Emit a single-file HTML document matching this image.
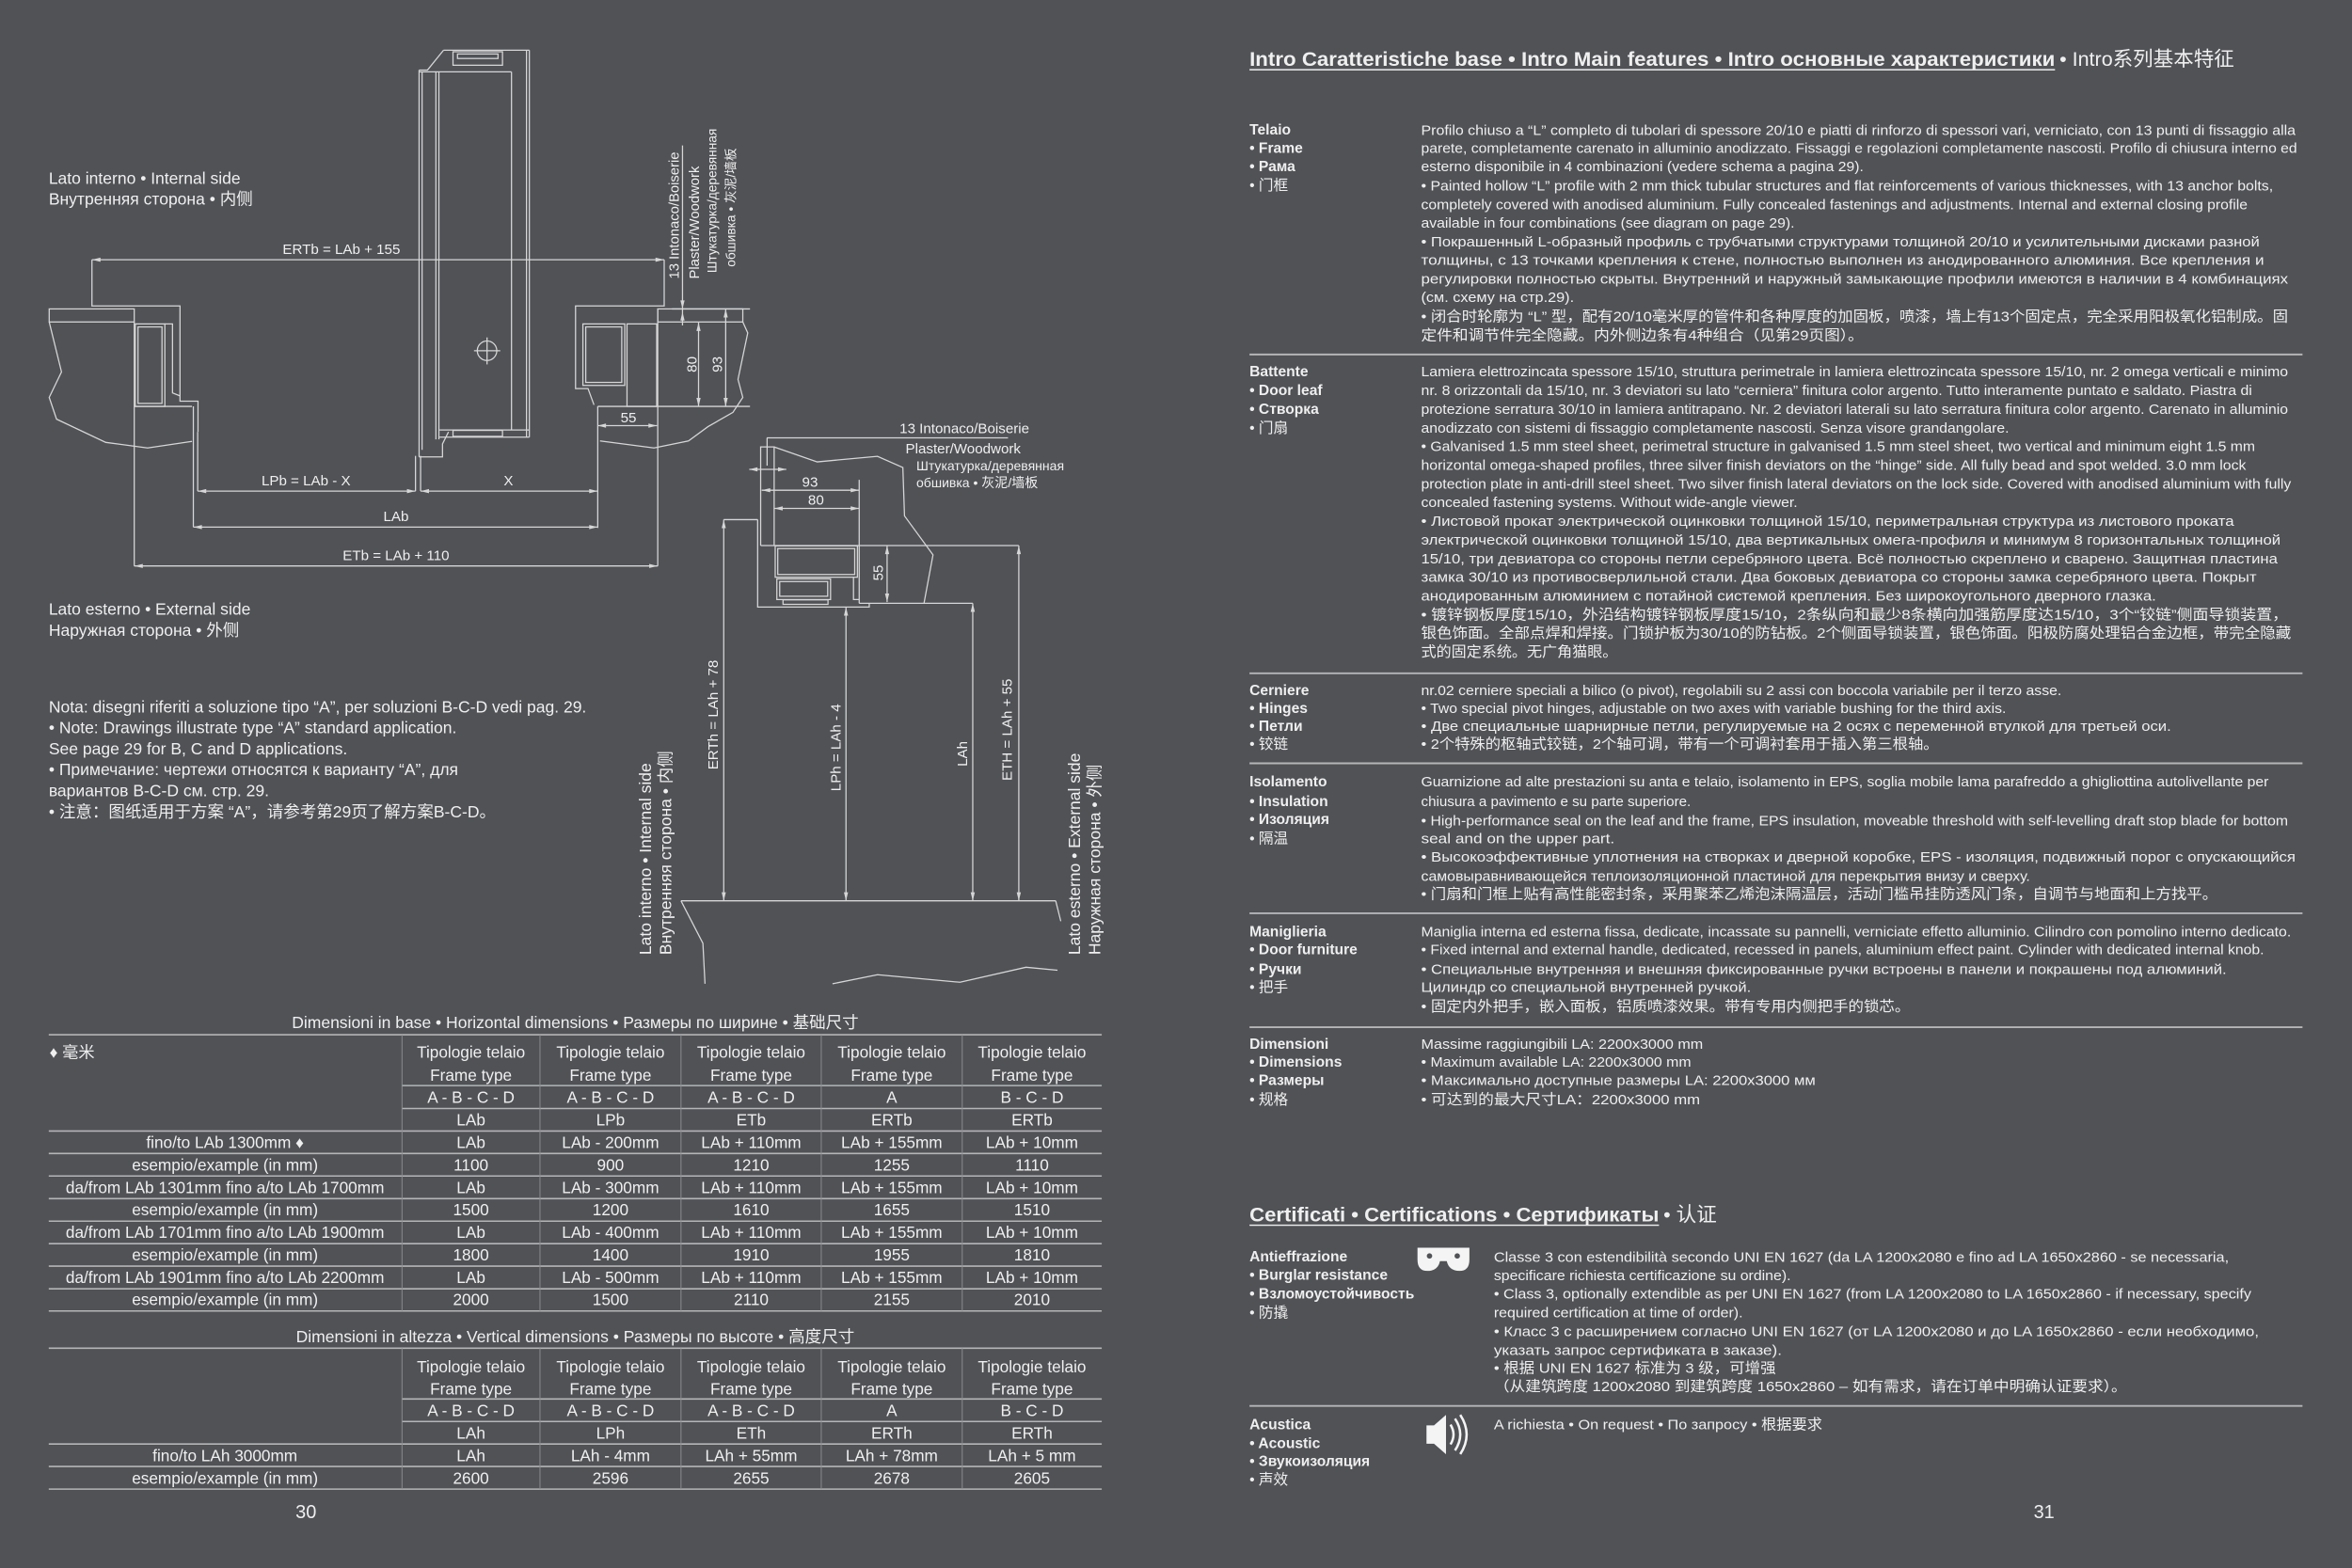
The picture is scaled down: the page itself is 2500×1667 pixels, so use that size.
<!DOCTYPE html>
<html><head><meta charset="utf-8">
<style>
html,body{margin:0;padding:0;background:#505256;}
svg{display:block;}
text{fill:#efefef;}
.n{font-family:"Liberation Sans Narrow","Liberation Sans","Noto Sans CJK SC",sans-serif;}
.s{font-family:"Liberation Sans","Noto Sans CJK SC",sans-serif;}
.b{font-weight:bold;}
</style></head>
<body>
<svg width="2500" height="1667" viewBox="0 0 1568 1045.6" preserveAspectRatio="none" xmlns="http://www.w3.org/2000/svg">
<rect x="0" y="0" width="1568" height="1046" fill="#505256"/>

<!-- ===== LEFT DRAWING ===== -->
<g stroke="#d6d6d6" stroke-width="0.8" fill="none">
 <line x1="279.4" y1="46.7" x2="279.4" y2="304.7"/>
 <line x1="281.4" y1="47.9" x2="281.4" y2="300"/>
 <line x1="290.6" y1="47.9" x2="290.6" y2="293"/>
 <line x1="292.6" y1="47.9" x2="292.6" y2="293"/>
 <line x1="341" y1="47.9" x2="341" y2="286.7"/>
 <line x1="351" y1="33.5" x2="351" y2="291.5"/>
 <line x1="352.9" y1="33.5" x2="352.9" y2="291.5"/>
 <line x1="295.7" y1="33.5" x2="352.9" y2="33.5"/>
 <line x1="279.4" y1="47.9" x2="341" y2="47.9"/>
 <polyline points="279.4,46.7 285,46.7 295.7,33.5"/>
 <rect x="302" y="34.5" width="33" height="9"/>
 <rect x="305" y="36" width="27" height="3"/>
 <line x1="293" y1="286.7" x2="352.9" y2="286.7"/>
 <line x1="293" y1="291.5" x2="352.9" y2="291.5"/>
 <rect x="302" y="287" width="33" height="4"/>
 <polyline points="279.4,304.7 295,304.7 295,296 299,288"/>
 <circle cx="324.7" cy="233.9" r="6.5"/>
 <line x1="324.7" y1="225" x2="324.7" y2="243"/>
 <line x1="316" y1="233.9" x2="333.5" y2="233.9"/>
 <polyline points="61.3,173.2 61.3,204 120,204 120,267.5 132,267.5 132,288"/>
 <rect x="32.8" y="206" width="56.7" height="8.7"/>
 <polyline points="32.8,214.7 41,248 32.8,265 37.7,279.5 70.5,295 98.4,298.7 128,294.3"/>
 <rect x="90.2" y="216" width="19.7" height="55"/>
 <rect x="92" y="218" width="16" height="51"/>
 <line x1="89.5" y1="214.7" x2="89.5" y2="377.4"/>
 <line x1="89.5" y1="271" x2="128" y2="271"/>
 <polyline points="110,216 115,216 115,262 120,264"/>
 <line x1="128.9" y1="271" x2="128.9" y2="351.5"/>
 <line x1="131.8" y1="288" x2="131.8" y2="327.5"/>
 <polyline points="442.8,173.2 442.8,204 383.7,204 383.7,259.1 392,259.1 396,270"/>
 <rect x="438.5" y="206" width="56.7" height="8.7"/>
 <polyline points="495.2,214.7 498.5,222 492,253 495.2,265 488.6,275 472,284.5 459,294 436,298.7 400,294"/>
 <rect x="388.6" y="216" width="27.9" height="41"/>
 <rect x="390.5" y="218" width="24" height="37"/>
 <rect x="418" y="216" width="19.8" height="55"/>
 <line x1="438.5" y1="206" x2="438.5" y2="377.4"/>
 <line x1="398.5" y1="271" x2="500" y2="271"/>
 <line x1="398.5" y1="271" x2="398.5" y2="352"/>
 <line x1="277" y1="304" x2="277" y2="327.5"/>
 <line x1="280.4" y1="304" x2="280.4" y2="327.5"/>
 <line x1="448" y1="206" x2="500" y2="206"/>
 <line x1="455" y1="97" x2="455" y2="217"/>
 <line x1="61.3" y1="173.2" x2="442.8" y2="173.2"/>
 <line x1="131.8" y1="327.5" x2="277" y2="327.5"/>
 <line x1="280.4" y1="327.5" x2="398.5" y2="327.5"/>
 <line x1="128.9" y1="351.5" x2="398.5" y2="351.5"/>
 <line x1="89.5" y1="377.4" x2="438.5" y2="377.4"/>
 <line x1="398.5" y1="283.8" x2="438" y2="283.8"/>
 <line x1="465.7" y1="215" x2="465.7" y2="271"/>
 <line x1="483.8" y1="206" x2="483.8" y2="271"/>
</g>
<g fill="#d6d6d6">
 <polygon points="61.3,173.2 67,171.8 67,174.6"/><polygon points="442.8,173.2 437,171.8 437,174.6"/>
 <polygon points="131.8,327.5 137.5,326.1 137.5,328.9"/><polygon points="277,327.5 271.3,326.1 271.3,328.9"/>
 <polygon points="280.4,327.5 286,326.1 286,328.9"/><polygon points="398.5,327.5 392.8,326.1 392.8,328.9"/>
 <polygon points="128.9,351.5 134.6,350.1 134.6,352.9"/><polygon points="398.5,351.5 392.8,350.1 392.8,352.9"/>
 <polygon points="89.5,377.4 95.2,376 95.2,378.8"/><polygon points="438.5,377.4 432.8,376 432.8,378.8"/>
 <polygon points="398.5,283.8 404,282.4 404,285.2"/><polygon points="438,283.8 432.3,282.4 432.3,285.2"/>
 <polygon points="465.7,215 464.3,220.7 467.1,220.7"/><polygon points="465.7,271 464.3,265.3 467.1,265.3"/>
 <polygon points="483.8,206 482.4,211.7 485.2,211.7"/><polygon points="483.8,271 482.4,265.3 485.2,265.3"/>
 <polygon points="455,206 453.6,200.3 456.4,200.3"/><polygon points="455,208 453.6,213.7 456.4,213.7"/>
</g>
<g class="n" font-size="9.5" text-anchor="middle">
 <text x="227.6" y="169.5">ERTb = LAb + 155</text>
 <text x="204" y="323.5">LPb = LAb - X</text>
 <text x="339" y="323.5">X</text>
 <text x="264" y="347.5">LAb</text>
 <text x="264" y="373.5">ETb = LAb + 110</text>
 <text x="419" y="281.5">55</text>
 <text transform="translate(464.5,243) rotate(-90)">80</text>
 <text transform="translate(481.5,243) rotate(-90)">93</text>
</g>
<g class="n" font-size="9.3">
 <text transform="translate(452.5,186) rotate(-90)">13 Intonaco/Boiserie</text>
 <text transform="translate(466,186) rotate(-90)">Plaster/Woodwork</text>
</g>
<g class="s" font-size="8.6">
 <text transform="translate(477.5,182) rotate(-90)">Штукатурка/деревянная</text>
 <text transform="translate(490,178) rotate(-90)">обшивка • 灰泥/墙板</text>
</g>
<g class="s" font-size="11">
 <text x="32.5" y="122.5">Lato interno • Internal side</text>
 <text x="32.5" y="136.5">Внутренняя сторона • 内侧</text>
 <text x="32.5" y="410">Lato esterno • External side</text>
 <text x="32.5" y="424">Наружная сторона • 外侧</text>
 <text x="32.5" y="475">Nota: disegni riferiti a soluzione tipo “A”, per soluzioni B-C-D vedi pag. 29.</text>
 <text x="32.5" y="489">• Note: Drawings illustrate type “A” standard application.</text>
 <text x="32.5" y="503">See page 29 for B, C and D applications.</text>
 <text x="32.5" y="517">• Примечание: чертежи относятся к варианту “A”, для</text>
 <text x="32.5" y="531">вариантов B-C-D см. стр. 29.</text>
 <text x="32.5" y="545">• 注意：图纸适用于方案 “A”，请参考第29页了解方案B-C-D。</text>
</g>

<g stroke="#d6d6d6" stroke-width="0.8" fill="none">
 <line x1="511.2" y1="292" x2="672" y2="292"/>
 <line x1="511.4" y1="292" x2="511.4" y2="310.5"/>
 <line x1="499.5" y1="313" x2="524.2" y2="313"/>
 <line x1="507.8" y1="326.9" x2="572.8" y2="326.9"/>
 <line x1="516.1" y1="339" x2="572.8" y2="339"/>
 <line x1="572.8" y1="320" x2="572.8" y2="402.3"/>
 <polyline points="507.1,363.8 507.1,298 516.1,298 516.1,363.8"/>
 <polyline points="516,298 544.8,308 585,304.3 601.9,311.8 603,344 622,370 616,402.3"/>
 <line x1="507.1" y1="363.8" x2="679.2" y2="363.8"/>
 <line x1="679.2" y1="363.8" x2="679.2" y2="600.7"/>
 <rect x="516.8" y="364" width="54.8" height="20.9"/>
 <rect x="518.5" y="365.8" width="51.3" height="17.3"/>
 <polyline points="569,385 569,399.8 572.8,399.8"/>
 <rect x="517.9" y="386" width="35.8" height="13.8"/>
 <rect x="519.8" y="387.8" width="32" height="9.8"/>
 <polyline points="505.1,346.5 505.1,404.8 579.5,404.8 579.5,402.3"/>
 <rect x="522" y="400" width="30" height="3"/>
 <line x1="591.4" y1="363.8" x2="591.4" y2="401.5"/>
 <line x1="572.8" y1="402.3" x2="648.5" y2="402.3"/>
 <line x1="648.5" y1="402.3" x2="648.5" y2="600.7"/>
 <line x1="564" y1="404.8" x2="564" y2="600.7"/>
 <line x1="482.5" y1="346.5" x2="482.5" y2="600.7"/>
 <line x1="482.5" y1="346.5" x2="505.1" y2="346.5"/>
 <line x1="454" y1="600.7" x2="703.8" y2="600.7"/>
 <polyline points="454,600.7 468.6,629 470,656"/>
 <polyline points="703.8,600.7 707.2,614.3"/>
 <polyline points="555,656 585,650 640,655 684,645 705,647"/>
</g>
<g fill="#d6d6d6">
 <polygon points="499.5,313 505,311.6 505,314.4"/><polygon points="524.2,313 518.7,311.6 518.7,314.4"/>
 <polygon points="507.8,326.9 513.5,325.5 513.5,328.3"/><polygon points="572.8,326.9 567.1,325.5 567.1,328.3"/>
 <polygon points="516.1,339 521.8,337.6 521.8,340.4"/><polygon points="572.8,339 567.1,337.6 567.1,340.4"/>
 <polygon points="591.4,363.8 590,369.5 592.8,369.5"/><polygon points="591.4,401.5 590,395.8 592.8,395.8"/>
 <polygon points="679.2,363.8 677.8,369.5 680.6,369.5"/><polygon points="679.2,600.7 677.8,595 680.6,595"/>
 <polygon points="648.5,402.3 647.1,408 649.9,408"/><polygon points="648.5,600.7 647.1,595 649.9,595"/>
 <polygon points="564,404.8 562.6,410.5 565.4,410.5"/><polygon points="564,600.7 562.6,595 565.4,595"/>
 <polygon points="482.5,346.5 481.1,352.2 483.9,352.2"/><polygon points="482.5,600.7 481.1,595 483.9,595"/>
</g>
<g class="n" font-size="9.5">
 <text x="599.7" y="289">13 Intonaco/Boiserie</text>
 <text x="603.7" y="302.3">Plaster/Woodwork</text>
 <text x="540" y="324.5" text-anchor="middle">93</text>
 <text x="544" y="336.5" text-anchor="middle">80</text>
 <text transform="translate(588.5,382) rotate(-90)" text-anchor="middle">55</text>
 <text transform="translate(478.5,476.7) rotate(-90)" text-anchor="middle">ERTh = LAh + 78</text>
 <text transform="translate(560.3,498.5) rotate(-90)" text-anchor="middle">LPh = LAh - 4</text>
 <text transform="translate(644.8,502.7) rotate(-90)" text-anchor="middle">LAh</text>
 <text transform="translate(674.5,486.6) rotate(-90)" text-anchor="middle">ETH = LAh + 55</text>
</g>
<g class="s" font-size="8.8">
 <text x="610.9" y="313.5">Штукатурка/деревянная</text>
 <text x="610.9" y="325">обшивка • 灰泥/墙板</text>
</g>
<g class="s" font-size="11">
 <text transform="translate(434,636.7) rotate(-90)">Lato interno • Internal side</text>
 <text transform="translate(447.5,636.7) rotate(-90)">Внутренняя сторона • 内侧</text>
 <text transform="translate(720,636.7) rotate(-90)">Lato esterno • External side</text>
 <text transform="translate(733.5,636.7) rotate(-90)">Наружная сторона • 外侧</text>
</g>

<!-- ===== TABLES ===== -->
<g stroke="#b4b5b7" stroke-width="1">
 <line x1="32.5" y1="690" x2="734.5" y2="690"/>
 <line x1="268" y1="723.9" x2="734.5" y2="723.9"/>
 <line x1="268" y1="739.2" x2="734.5" y2="739.2"/>
 <line x1="32.5" y1="754.2" x2="734.5" y2="754.2"/>
 <line x1="32.5" y1="769.2" x2="734.5" y2="769.2"/>
 <line x1="32.5" y1="784.2" x2="734.5" y2="784.2"/>
 <line x1="32.5" y1="799.3" x2="734.5" y2="799.3"/>
 <line x1="32.5" y1="814.3" x2="734.5" y2="814.3"/>
 <line x1="32.5" y1="829.3" x2="734.5" y2="829.3"/>
 <line x1="32.5" y1="844.3" x2="734.5" y2="844.3"/>
 <line x1="32.5" y1="859.4" x2="734.5" y2="859.4"/>
 <line x1="32.5" y1="874.2" x2="734.5" y2="874.2"/>
 <line x1="32.5" y1="899" x2="734.5" y2="899"/>
 <line x1="268" y1="932.9" x2="734.5" y2="932.9"/>
 <line x1="268" y1="947.9" x2="734.5" y2="947.9"/>
 <line x1="32.5" y1="962.9" x2="734.5" y2="962.9"/>
 <line x1="32.5" y1="977.9" x2="734.5" y2="977.9"/>
 <line x1="32.5" y1="993" x2="734.5" y2="993"/>
</g>
<g stroke="#8c8d90" stroke-width="0.6">
 <line x1="268" y1="690" x2="268" y2="874.2"/><line x1="360" y1="690" x2="360" y2="874.2"/>
 <line x1="454" y1="690" x2="454" y2="874.2"/><line x1="547.5" y1="690" x2="547.5" y2="874.2"/>
 <line x1="641.5" y1="690" x2="641.5" y2="874.2"/>
 <line x1="268" y1="899" x2="268" y2="993"/><line x1="360" y1="899" x2="360" y2="993"/>
 <line x1="454" y1="899" x2="454" y2="993"/><line x1="547.5" y1="899" x2="547.5" y2="993"/>
 <line x1="641.5" y1="899" x2="641.5" y2="993"/>
</g>
<g class="n" font-size="11" text-anchor="middle">
 <text x="383.5" y="685.5">Dimensioni in base • Horizontal dimensions • Размеры по ширине • 基础尺寸</text>
 <text x="383.5" y="895">Dimensioni in altezza • Vertical dimensions • Размеры по высоте • 高度尺寸</text>
 <text x="204" y="1012.5" font-size="12.5">30</text>
</g>
<g class="n" font-size="10.8" text-anchor="middle">
 <text x="33" y="705.4" text-anchor="start">♦ 毫米</text>
 <text x="314" y="705.4">Tipologie telaio</text><text x="407" y="705.4">Tipologie telaio</text><text x="500.8" y="705.4">Tipologie telaio</text><text x="594.5" y="705.4">Tipologie telaio</text><text x="688" y="705.4">Tipologie telaio</text>
 <text x="314" y="720.6">Frame type</text><text x="407" y="720.6">Frame type</text><text x="500.8" y="720.6">Frame type</text><text x="594.5" y="720.6">Frame type</text><text x="688" y="720.6">Frame type</text>
 <text x="314" y="735.4">A - B - C - D</text><text x="407" y="735.4">A - B - C - D</text><text x="500.8" y="735.4">A - B - C - D</text><text x="594.5" y="735.4">A</text><text x="688" y="735.4">B - C - D</text>
 <text x="314" y="750.6">LAb</text><text x="407" y="750.6">LPb</text><text x="500.8" y="750.6">ETb</text><text x="594.5" y="750.6">ERTb</text><text x="688" y="750.6">ERTb</text>
 <text x="150" y="765.7">fino/to LAb 1300mm ♦</text><text x="314" y="765.7">LAb</text><text x="407" y="765.7">LAb - 200mm</text><text x="500.8" y="765.7">LAb + 110mm</text><text x="594.5" y="765.7">LAb + 155mm</text><text x="688" y="765.7">LAb + 10mm</text>
 <text x="150" y="780.5">esempio/example (in mm)</text><text x="314" y="780.5">1100</text><text x="407" y="780.5">900</text><text x="500.8" y="780.5">1210</text><text x="594.5" y="780.5">1255</text><text x="688" y="780.5">1110</text>
 <text x="150" y="795.8">da/from LAb 1301mm fino a/to LAb 1700mm</text><text x="314" y="795.8">LAb</text><text x="407" y="795.8">LAb - 300mm</text><text x="500.8" y="795.8">LAb + 110mm</text><text x="594.5" y="795.8">LAb + 155mm</text><text x="688" y="795.8">LAb + 10mm</text>
 <text x="150" y="810.5">esempio/example (in mm)</text><text x="314" y="810.5">1500</text><text x="407" y="810.5">1200</text><text x="500.8" y="810.5">1610</text><text x="594.5" y="810.5">1655</text><text x="688" y="810.5">1510</text>
 <text x="150" y="825.3">da/from LAb 1701mm fino a/to LAb 1900mm</text><text x="314" y="825.3">LAb</text><text x="407" y="825.3">LAb - 400mm</text><text x="500.8" y="825.3">LAb + 110mm</text><text x="594.5" y="825.3">LAb + 155mm</text><text x="688" y="825.3">LAb + 10mm</text>
 <text x="150" y="840.4">esempio/example (in mm)</text><text x="314" y="840.4">1800</text><text x="407" y="840.4">1400</text><text x="500.8" y="840.4">1910</text><text x="594.5" y="840.4">1955</text><text x="688" y="840.4">1810</text>
 <text x="150" y="855.4">da/from LAb 1901mm fino a/to LAb 2200mm</text><text x="314" y="855.4">LAb</text><text x="407" y="855.4">LAb - 500mm</text><text x="500.8" y="855.4">LAb + 110mm</text><text x="594.5" y="855.4">LAb + 155mm</text><text x="688" y="855.4">LAb + 10mm</text>
 <text x="150" y="870.4">esempio/example (in mm)</text><text x="314" y="870.4">2000</text><text x="407" y="870.4">1500</text><text x="500.8" y="870.4">2110</text><text x="594.5" y="870.4">2155</text><text x="688" y="870.4">2010</text>
 <text x="314" y="915">Tipologie telaio</text><text x="407" y="915">Tipologie telaio</text><text x="500.8" y="915">Tipologie telaio</text><text x="594.5" y="915">Tipologie telaio</text><text x="688" y="915">Tipologie telaio</text>
 <text x="314" y="930">Frame type</text><text x="407" y="930">Frame type</text><text x="500.8" y="930">Frame type</text><text x="594.5" y="930">Frame type</text><text x="688" y="930">Frame type</text>
 <text x="314" y="944.4">A - B - C - D</text><text x="407" y="944.4">A - B - C - D</text><text x="500.8" y="944.4">A - B - C - D</text><text x="594.5" y="944.4">A</text><text x="688" y="944.4">B - C - D</text>
 <text x="314" y="959.4">LAh</text><text x="407" y="959.4">LPh</text><text x="500.8" y="959.4">ETh</text><text x="594.5" y="959.4">ERTh</text><text x="688" y="959.4">ERTh</text>
 <text x="150" y="974.4">fino/to LAh 3000mm</text><text x="314" y="974.4">LAh</text><text x="407" y="974.4">LAh - 4mm</text><text x="500.8" y="974.4">LAh + 55mm</text><text x="594.5" y="974.4">LAh + 78mm</text><text x="688" y="974.4">LAh + 5 mm</text>
 <text x="150" y="989.4">esempio/example (in mm)</text><text x="314" y="989.4">2600</text><text x="407" y="989.4">2596</text><text x="500.8" y="989.4">2655</text><text x="594.5" y="989.4">2678</text><text x="688" y="989.4">2605</text>
</g>

<!-- ===== RIGHT PAGE ===== -->
<g class="n b" font-size="13.5">
 <text x="833" y="44" textLength="537" lengthAdjust="spacingAndGlyphs">Intro Caratteristiche base • Intro Main features • Intro основные характеристики</text>
 <text x="1373" y="44" font-weight="normal">• Intro系列基本特征</text>
 <text x="833" y="814.5" textLength="273" lengthAdjust="spacingAndGlyphs">Certificati • Certifications • Сертификаты</text>
 <text x="1109" y="814.5" font-weight="normal">• 认证</text>
</g>
<g stroke="#efefef" stroke-width="0.9">
 <line x1="833" y1="46.5" x2="1370" y2="46.5"/>
 <line x1="833" y1="817" x2="1106" y2="817"/>
</g>
<g stroke="#b4b5b7" stroke-width="1.2">
 <line x1="833" y1="236.4" x2="1535" y2="236.4"/>
 <line x1="833" y1="449" x2="1535" y2="449"/>
 <line x1="833" y1="509" x2="1535" y2="509"/>
 <line x1="833" y1="609" x2="1535" y2="609"/>
 <line x1="833" y1="685" x2="1535" y2="685"/>
 <line x1="833" y1="937.5" x2="1535" y2="937.5"/>
</g>
<g class="n b" font-size="9.8">
 <text x="833" y="89.8">Telaio</text><text x="833" y="101.8">• Frame</text><text x="833" y="114.2">• Рама</text><text x="833" y="126.6" font-weight="normal">• 门框</text>
 <text x="833" y="251">Battente</text><text x="833" y="263.4">• Door leaf</text><text x="833" y="275.9">• Створка</text><text x="833" y="288.4" font-weight="normal">• 门扇</text>
 <text x="833" y="463.4">Cerniere</text><text x="833" y="475.4">• Hinges</text><text x="833" y="487.4">• Петли</text><text x="833" y="499.4" font-weight="normal">• 铰链</text>
 <text x="833" y="524.4">Isolamento</text><text x="833" y="537.4">• Insulation</text><text x="833" y="549.4">• Изоляция</text><text x="833" y="562.4" font-weight="normal">• 隔温</text>
 <text x="833" y="624.4">Maniglieria</text><text x="833" y="636.4">• Door furniture</text><text x="833" y="649.4">• Ручки</text><text x="833" y="661.4" font-weight="normal">• 把手</text>
 <text x="833" y="699.4">Dimensioni</text><text x="833" y="711.4">• Dimensions</text><text x="833" y="723.4">• Размеры</text><text x="833" y="736.4" font-weight="normal">• 规格</text>
 <text x="833" y="841">Antieffrazione</text><text x="833" y="853.5">• Burglar resistance</text><text x="833" y="866">• Взломоустойчивость</text><text x="833" y="878.5" font-weight="normal">• 防撬</text>
 <text x="833" y="953">Acustica</text><text x="833" y="965.6">• Acoustic</text><text x="833" y="977.7">• Звукоизоляция</text><text x="833" y="989.8" font-weight="normal">• 声效</text>
</g>
<g class="n" font-size="9.5">
 <text x="947.4" y="90" textLength="583" lengthAdjust="spacingAndGlyphs">Profilo chiuso a “L” completo di tubolari di spessore 20/10 e piatti di rinforzo di spessori vari, verniciato, con 13 punti di fissaggio alla</text>
 <text x="947.4" y="102" textLength="584" lengthAdjust="spacingAndGlyphs">parete, completamente carenato in alluminio anodizzato. Fissaggi e regolazioni completamente nascosti. Profilo di chiusura interno ed</text>
 <text x="947.4" y="114.3" textLength="295" lengthAdjust="spacingAndGlyphs">esterno disponibile in 4 combinazioni (vedere schema a pagina 29).</text>
 <text x="947.4" y="126.9" textLength="568" lengthAdjust="spacingAndGlyphs">• Painted hollow “L” profile with 2 mm thick tubular structures and flat reinforcements of various thicknesses, with 13 anchor bolts,</text>
 <text x="947.4" y="139.5" textLength="551" lengthAdjust="spacingAndGlyphs">completely covered with anodised aluminium. Fully concealed fastenings and adjustments. Internal and external closing profile</text>
 <text x="947.4" y="151.9" textLength="249" lengthAdjust="spacingAndGlyphs">available in four combinations (see diagram on page 29).</text>
 <text x="947.4" y="164.4" textLength="559" lengthAdjust="spacingAndGlyphs">• Покрашенный L-образный профиль с трубчатыми структурами толщиной 20/10 и усилительными дисками разной</text>
 <text x="947.4" y="176.5" textLength="562" lengthAdjust="spacingAndGlyphs">толщины, с 13 точками крепления к стене, полностью выполнен из анодированного алюминия. Все крепления и</text>
 <text x="947.4" y="189.1" textLength="578" lengthAdjust="spacingAndGlyphs">регулировки полностью скрыты.  Внутренний и наружный замыкающие профили имеются в наличии в 4 комбинациях</text>
 <text x="947.4" y="201.4" textLength="102" lengthAdjust="spacingAndGlyphs">(см. схему на стр.29).</text>
 <text x="947.4" y="214.3" textLength="578" lengthAdjust="spacingAndGlyphs">• 闭合时轮廓为 “L” 型，配有20/10毫米厚的管件和各种厚度的加固板，喷漆，墙上有13个固定点，完全采用阳极氧化铝制成。固</text>
 <text x="947.4" y="226.9" textLength="295" lengthAdjust="spacingAndGlyphs">定件和调节件完全隐藏。内外侧边条有4种组合（见第29页图）。</text>

 <text x="947.4" y="251" textLength="578" lengthAdjust="spacingAndGlyphs">Lamiera elettrozincata spessore 15/10, struttura perimetrale in lamiera elettrozincata spessore 15/10, nr. 2 omega verticali e minimo</text>
 <text x="947.4" y="263.5" textLength="554" lengthAdjust="spacingAndGlyphs">nr. 8 orizzontali da 15/10, nr. 3 deviatori su lato “cerniera” finitura color argento. Tutto interamente puntato e saldato. Piastra di</text>
 <text x="947.4" y="275.9" textLength="578" lengthAdjust="spacingAndGlyphs">protezione serratura 30/10 in lamiera antitrapano. Nr. 2 deviatori laterali su lato serratura finitura color argento. Carenato in alluminio</text>
 <text x="947.4" y="288.4" textLength="392" lengthAdjust="spacingAndGlyphs">anodizzato con sistemi di fissaggio completamente nascosti. Senza visore grandangolare.</text>
 <text x="947.4" y="300.8" textLength="556" lengthAdjust="spacingAndGlyphs">• Galvanised 1.5 mm steel sheet, perimetral structure in galvanised 1.5 mm steel sheet, two vertical and minimum eight 1.5 mm</text>
 <text x="947.4" y="313.3" textLength="550" lengthAdjust="spacingAndGlyphs">horizontal omega-shaped profiles, three silver finish deviators on the “hinge” side. All fully bead and spot welded. 3.0 mm lock</text>
 <text x="947.4" y="325.8" textLength="580" lengthAdjust="spacingAndGlyphs">protection plate in anti-drill steel sheet. Two silver finish lateral deviators on the lock side. Covered with anodised aluminium with fully</text>
 <text x="947.4" y="338.2" textLength="251" lengthAdjust="spacingAndGlyphs">concealed fastening systems. Without wide-angle viewer.</text>
 <text x="947.4" y="350.7" textLength="542" lengthAdjust="spacingAndGlyphs">• Листовой прокат электрической оцинковки толщиной 15/10, периметральная структура из листового проката</text>
 <text x="947.4" y="363.1" textLength="573" lengthAdjust="spacingAndGlyphs">электрической оцинковки толщиной 15/10, два вертикальных омега-профиля и минимум 8 горизонтальных толщиной</text>
 <text x="947.4" y="375.6" textLength="571" lengthAdjust="spacingAndGlyphs">15/10, три девиатора со стороны петли серебряного цвета. Всё полностью скреплено и сварено. Защитная пластина</text>
 <text x="947.4" y="388" textLength="557" lengthAdjust="spacingAndGlyphs">замка 30/10 из противосверлильной стали. Два боковых девиатора со стороны замка серебряного цвета. Покрыт</text>
 <text x="947.4" y="400.5" textLength="490" lengthAdjust="spacingAndGlyphs">анодированным алюминием с потайной системой крепления. Без широкоугольного дверного глазка.</text>
 <text x="947.4" y="413" textLength="578" lengthAdjust="spacingAndGlyphs">• 镀锌钢板厚度15/10，外沿结构镀锌钢板厚度15/10，2条纵向和最少8条横向加强筋厚度达15/10，3个“铰链”侧面导锁装置，</text>
 <text x="947.4" y="425.4" textLength="580" lengthAdjust="spacingAndGlyphs">银色饰面。全部点焊和焊接。门锁护板为30/10的防钻板。2个侧面导锁装置，银色饰面。阳极防腐处理铝合金边框，带完全隐藏</text>
 <text x="947.4" y="437.9" textLength="131" lengthAdjust="spacingAndGlyphs">式的固定系统。无广角猫眼。</text>

 <text x="947.4" y="463.4" textLength="427" lengthAdjust="spacingAndGlyphs">nr.02 cerniere speciali a bilico (o pivot), regolabili su 2 assi con boccola variabile per il terzo asse.</text>
 <text x="947.4" y="475.4" textLength="390" lengthAdjust="spacingAndGlyphs">• Two special pivot hinges, adjustable on two axes with variable bushing for the third axis.</text>
 <text x="947.4" y="487.4" textLength="500" lengthAdjust="spacingAndGlyphs">• Две специальные шарнирные петли, регулируемые на 2 осях с переменной втулкой для третьей оси.</text>
 <text x="947.4" y="499.4" textLength="345" lengthAdjust="spacingAndGlyphs">• 2个特殊的枢轴式铰链，2个轴可调，带有一个可调衬套用于插入第三根轴。</text>

 <text x="947.4" y="524.4" textLength="565" lengthAdjust="spacingAndGlyphs">Guarnizione ad alte prestazioni su anta e telaio, isolamento in EPS, soglia mobile lama parafreddo a ghigliottina autolivellante per</text>
 <text x="947.4" y="537.4">chiusura a pavimento e su parte superiore.</text>
 <text x="947.4" y="550.4" textLength="578" lengthAdjust="spacingAndGlyphs">• High-performance seal on the leaf and the frame, EPS insulation, moveable threshold with self-levelling draft stop blade for bottom</text>
 <text x="947.4" y="562.4" textLength="129" lengthAdjust="spacingAndGlyphs">seal and on the upper part.</text>
 <text x="947.4" y="574.4" textLength="583" lengthAdjust="spacingAndGlyphs">• Высокоэффективные уплотнения на створках и дверной коробке, EPS - изоляция, подвижный порог с опускающийся</text>
 <text x="947.4" y="587.4" textLength="406" lengthAdjust="spacingAndGlyphs">самовыравнивающейся теплоизоляционной пластиной для перекрытия внизу и сверху.</text>
 <text x="947.4" y="599.4" textLength="531" lengthAdjust="spacingAndGlyphs">• 门扇和门框上贴有高性能密封条，采用聚苯乙烯泡沫隔温层，活动门槛吊挂防透风门条，自调节与地面和上方找平。</text>

 <text x="947.4" y="624.4" textLength="580" lengthAdjust="spacingAndGlyphs">Maniglia interna ed esterna fissa, dedicate, incassate su pannelli, verniciate effetto alluminio. Cilindro con pomolino interno dedicato.</text>
 <text x="947.4" y="636.4" textLength="562" lengthAdjust="spacingAndGlyphs">• Fixed internal and external handle, dedicated, recessed in panels, aluminium effect paint. Cylinder with dedicated internal knob.</text>
 <text x="947.4" y="649.4" textLength="537" lengthAdjust="spacingAndGlyphs">• Специальные внутренняя и внешняя фиксированные ручки встроены в панели и покрашены под алюминий.</text>
 <text x="947.4" y="661.4" textLength="220" lengthAdjust="spacingAndGlyphs">Цилиндр со специальной внутренней ручкой.</text>
 <text x="947.4" y="674.4" textLength="326" lengthAdjust="spacingAndGlyphs">• 固定内外把手，嵌入面板，铝质喷漆效果。带有专用内侧把手的锁芯。</text>

 <text x="947.4" y="699.4" textLength="188" lengthAdjust="spacingAndGlyphs">Massime raggiungibili LA: 2200x3000 mm</text>
 <text x="947.4" y="711.4" textLength="180" lengthAdjust="spacingAndGlyphs">• Maximum available LA: 2200x3000 mm</text>
 <text x="947.4" y="723.4" textLength="263" lengthAdjust="spacingAndGlyphs">• Максимально доступные размеры LA: 2200x3000 мм</text>
 <text x="947.4" y="736.4" textLength="186" lengthAdjust="spacingAndGlyphs">• 可达到的最大尺寸LA：2200x3000 mm</text>

 <text x="995.9" y="841.4" textLength="490" lengthAdjust="spacingAndGlyphs">Classe 3 con estendibilità secondo UNI EN 1627 (da LA 1200x2080 e fino ad LA 1650x2860 - se necessaria,</text>
 <text x="995.9" y="853.7" textLength="198" lengthAdjust="spacingAndGlyphs">specificare richiesta certificazione su ordine).</text>
 <text x="995.9" y="866" textLength="505" lengthAdjust="spacingAndGlyphs">• Class 3, optionally extendible as per UNI EN 1627 (from LA 1200x2080 to LA 1650x2860 - if necessary, specify</text>
 <text x="995.9" y="878.6" textLength="166" lengthAdjust="spacingAndGlyphs">required certification at time of order).</text>
 <text x="995.9" y="890.9" textLength="510" lengthAdjust="spacingAndGlyphs">• Класс 3 с расширением согласно UNI EN 1627 (от LA 1200x2080 и до LA 1650x2860 - если необходимо,</text>
 <text x="995.9" y="903.4" textLength="192" lengthAdjust="spacingAndGlyphs">указать запрос сертификата в заказе).</text>
 <text x="995.9" y="915.4" textLength="188" lengthAdjust="spacingAndGlyphs">• 根据 UNI EN 1627 标准为 3 级，可增强</text>
 <text x="995.9" y="927.7" textLength="422" lengthAdjust="spacingAndGlyphs">（从建筑跨度 1200x2080 到建筑跨度 1650x2860 – 如有需求，请在订单中明确认证要求）。</text>
 <text x="995.9" y="953" textLength="219" lengthAdjust="spacingAndGlyphs">A richiesta • On request • По запросу • 根据要求</text>
</g>
<g fill="#f4f4f4">
 <path d="M945,832 L979.6,832 L979.6,840 Q979.6,847.5 973,847.5 Q966,847.5 964.5,841 L960,841 Q958.6,847.5 951.6,847.5 Q945,847.5 945,840 Z"/>
 <circle cx="953" cy="837.5" r="1.8" fill="#505256"/><circle cx="971.5" cy="837.5" r="1.8" fill="#505256"/>
 <path d="M951,950.5 L956,950.5 L964,943.5 L964,969.7 L956,962.7 L951,962.7 Z"/>
</g>
<g stroke="#f4f4f4" stroke-width="1.6" fill="none">
 <path d="M967,950 Q971,956.6 967,963.2"/>
 <path d="M970,946 Q977,956.6 970,967.2"/>
 <path d="M973.5,943.5 Q982,956.6 973.5,969.7"/>
</g>
<text class="n" x="1362.7" y="1012.5" font-size="12.5" text-anchor="middle">31</text>
</svg>
</body></html>
